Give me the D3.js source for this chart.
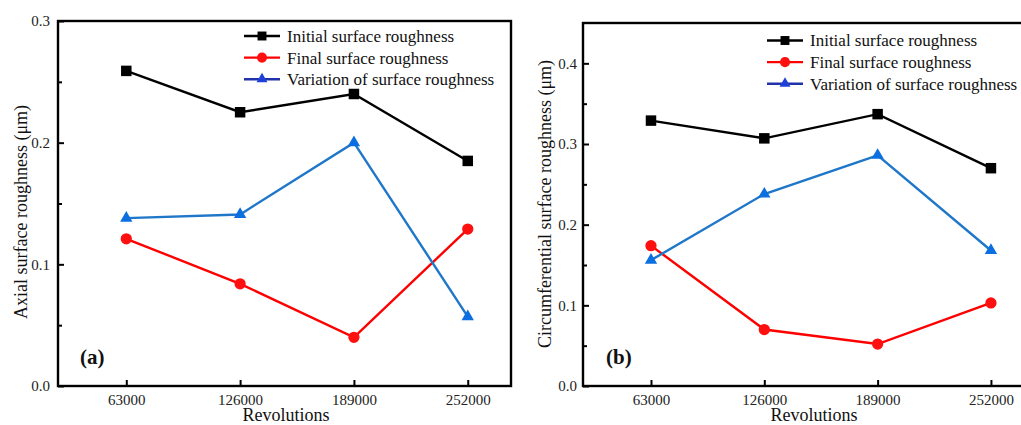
<!DOCTYPE html>
<html>
<head>
<meta charset="utf-8">
<script src="https://cdn.jsdelivr.net/npm/d3@7"></script>
<style>
  html, body { margin: 0; padding: 0; background: #fff; }
  svg { display: block; font-family: "Liberation Serif", "Times New Roman", serif; }
</style>
</head>
<body>
<script>

// Data
var revolutions = ["63000", "126000", "189000", "252000"];

var axialInitial   = [0.259, 0.225, 0.240, 0.185];
var axialFinal     = [0.121, 0.084, 0.040, 0.129];
var axialVariation = [0.138, 0.141, 0.200, 0.057];

var circInitial   = [0.329, 0.307, 0.337, 0.270];
var circFinal     = [0.174, 0.070, 0.052, 0.103];
var circVariation = [0.156, 0.238, 0.286, 0.168];

var axialTicks = [0, 0.1, 0.2, 0.3];
var axialMinor = [0.05, 0.15, 0.25];
var circTicks  = [0, 0.1, 0.2, 0.3, 0.4];
var circMinor  = [0.05, 0.15, 0.25, 0.35];

var seriesNames = ["Initial surface roughness", "Final surface roughness", "Variation of surface roughness"];

const width = 1021;
const height = 425;

const svg = d3.select("body").append("svg")
    .attr("width", width)
    .attr("height", height)
    .attr("viewBox", [0, 0, width, height]);

svg.append("rect").attr("width", width).attr("height", height).attr("fill", "#fff");

// style for each series: line colour, marker, marker colour
var styles = [
    {line: "#000", fill: "#000", legendLine: "#000", legendFill: "#000", symbol: d3.symbolSquare, size: 110, legendSize: 80},
    {line: "#ff0000", fill: "#ff1010", legendLine: "#ff0000", legendFill: "#ff1010", symbol: d3.symbolCircle, size: 100, legendSize: 80},
    {line: "#1f77c9", fill: "#0b6fe0", legendLine: "#2233aa", legendFill: "#1f40d8", symbol: d3.symbolTriangle, size: 66, legendSize: 52}
];

function drawPanel(p){

    const g = svg.append("g");

    const x = d3.scaleLinear([0.4, 4.38], [p.left, p.right]);
    const y = d3.scaleLinear([0, p.ymax], [p.bottom, p.top]);

    // y axis, ticks pointing into the plot
    g.append("g")
        .attr("transform", `translate(${p.left},0)`)
        .call(d3.axisLeft(y).tickValues(p.ticks).tickFormat(d3.format(".1f"))
            .tickSizeInner(-6).tickSizeOuter(0).tickPadding(p.ypad))
        .call(g => g.select(".domain").remove())
        .call(g => g.selectAll(".tick line").attr("stroke-width", 2))
        .call(g => g.selectAll(".tick text")
            .attr("font-size", "15px")
            .attr("font-family", "Liberation Serif, Times New Roman, serif")
            .attr("fill", "#222"));

    // minor ticks
    g.append("g")
        .attr("transform", `translate(${p.left},0)`)
        .call(d3.axisLeft(y).tickValues(p.minor).tickFormat("").tickSizeInner(-4).tickSizeOuter(0))
        .call(g => g.select(".domain").remove())
        .call(g => g.selectAll(".tick line").attr("stroke-width", 2));

    // x axis
    g.append("g")
        .attr("transform", `translate(0,${p.bottom})`)
        .call(d3.axisBottom(x).tickValues([1, 2, 3, 4]).tickFormat((d, i) => revolutions[i])
            .tickSizeInner(-6).tickSizeOuter(0).tickPadding(8))
        .call(g => g.select(".domain").remove())
        .call(g => g.selectAll(".tick line").attr("stroke-width", 2))
        .call(g => g.selectAll(".tick text")
            .attr("font-size", "15px")
            .attr("font-family", "Liberation Serif, Times New Roman, serif")
            .attr("fill", "#222"));

    // frame
    g.append("rect")
        .attr("x", p.left)
        .attr("y", p.top)
        .attr("width", p.right - p.left)
        .attr("height", p.bottom - p.top)
        .attr("fill", "none")
        .attr("stroke", "#000")
        .attr("stroke-width", 2.4);

    // lines and markers
    p.series.forEach(function(values, k){
        var st = styles[k];
        var line = d3.line()
            .x((d, i) => x(i + 1))
            .y(d => y(d));

        g.append("path")
            .attr("fill", "none")
            .attr("stroke", st.line)
            .attr("stroke-width", 2.4)
            .attr("d", line(values));

        g.selectAll(null)
            .data(values)
            .enter().append("path")
            .attr("transform", (d, i) => `translate(${x(i + 1)},${y(d)})`)
            .attr("d", d3.symbol(st.symbol, st.size))
            .attr("fill", st.fill);
    });

    // legend
    seriesNames.forEach(function(name, k){
        var st = styles[k];
        var ly = p.legendY + k * 21.6;
        g.append("line")
            .attr("x1", p.legendX).attr("x2", p.legendX + 36)
            .attr("y1", ly).attr("y2", ly)
            .attr("stroke", st.legendLine)
            .attr("stroke-width", 2.4);
        g.append("path")
            .attr("transform", `translate(${p.legendX + 18},${ly})`)
            .attr("d", d3.symbol(st.symbol, st.legendSize))
            .attr("fill", st.legendFill);
        g.append("text")
            .attr("x", p.legendX + 43)
            .attr("y", ly)
            .attr("dy", "0.35em")
            .attr("font-size", "17px")
            .attr("fill", "#111")
            .text(name);
    });

    // axis titles
    g.append("text")
        .attr("x", p.xTitleX)
        .attr("y", 421)
        .attr("text-anchor", "middle")
        .attr("font-size", "18px")
        .attr("fill", "#111")
        .text("Revolutions");

    g.append("text")
        .attr("transform", `translate(${p.yTitleX},${p.yTitleY}) rotate(-90)`)
        .attr("text-anchor", "middle")
        .attr("dy", "0.35em")
        .attr("font-size", "18px")
        .attr("fill", "#111")
        .text(p.yTitle);

    // panel label
    g.append("text")
        .attr("x", p.labelX)
        .attr("y", 364)
        .attr("font-size", "21px")
        .attr("font-weight", "bold")
        .attr("fill", "#111")
        .text(p.label);
}

drawPanel({
    left: 58, right: 511, top: 21, bottom: 386, ymax: 0.3,
    ticks: axialTicks, minor: axialMinor, ypad: 8,
    series: [axialInitial, axialFinal, axialVariation],
    legendX: 244, legendY: 36,
    xTitleX: 286, yTitleX: 21, yTitleY: 212,
    yTitle: "Axial surface roughness (\u03bcm)",
    label: "(a)", labelX: 80
});

drawPanel({
    left: 583, right: 1034, top: 23, bottom: 386, ymax: 0.45,
    ticks: circTicks, minor: circMinor, ypad: 6,
    series: [circInitial, circFinal, circVariation],
    legendX: 767, legendY: 40.5,
    xTitleX: 814, yTitleX: 545, yTitleY: 204,
    yTitle: "Circumferential surface roughness (\u03bcm)",
    label: "(b)", labelX: 606
});

</script>
</body>
</html>
